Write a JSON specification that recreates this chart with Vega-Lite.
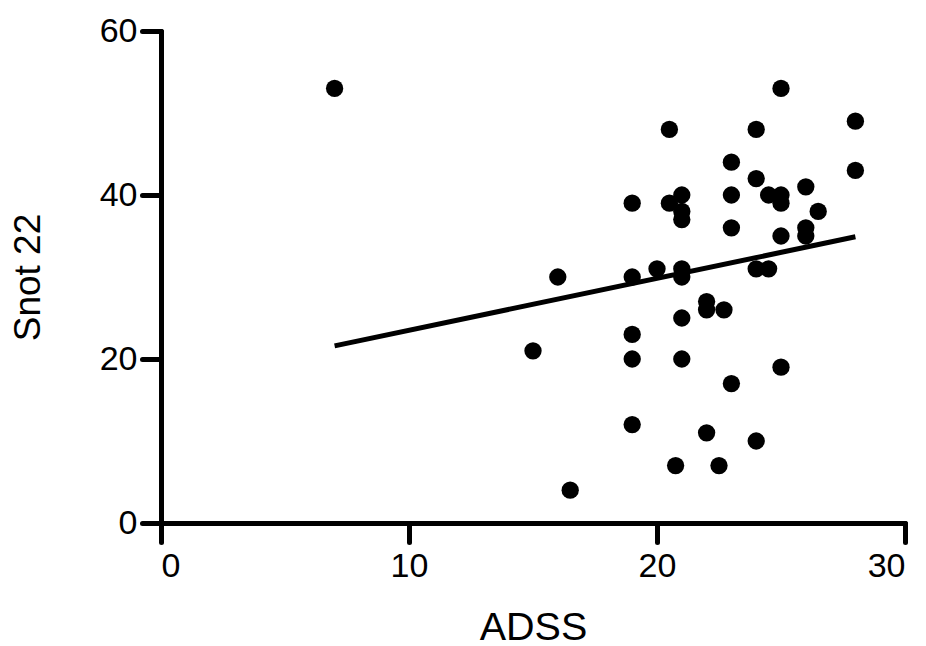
{
  "$schema": "https://vega.github.io/schema/vega-lite/v6.json",
  "width": 744,
  "height": 492,
  "autosize": "none",
  "padding": {"left": 161, "top": 31, "right": 21, "bottom": 123},
  "background": "white",
  "config": {
    "view": {"stroke": null},
    "font": "Liberation Sans"
  },
  "datasets": {
    "points": [
      {"ADSS": 7, "Snot22": 53},
      {"ADSS": 15, "Snot22": 21},
      {"ADSS": 16, "Snot22": 30},
      {"ADSS": 16.5, "Snot22": 4},
      {"ADSS": 19, "Snot22": 39},
      {"ADSS": 19, "Snot22": 30},
      {"ADSS": 19, "Snot22": 23},
      {"ADSS": 19, "Snot22": 20},
      {"ADSS": 19, "Snot22": 12},
      {"ADSS": 20, "Snot22": 31},
      {"ADSS": 20.5, "Snot22": 48},
      {"ADSS": 20.5, "Snot22": 39},
      {"ADSS": 20.75, "Snot22": 7},
      {"ADSS": 21, "Snot22": 40},
      {"ADSS": 21, "Snot22": 38},
      {"ADSS": 21, "Snot22": 37},
      {"ADSS": 21, "Snot22": 31},
      {"ADSS": 21, "Snot22": 30},
      {"ADSS": 21, "Snot22": 25},
      {"ADSS": 21, "Snot22": 20},
      {"ADSS": 22, "Snot22": 27},
      {"ADSS": 22, "Snot22": 26},
      {"ADSS": 22, "Snot22": 11},
      {"ADSS": 22.5, "Snot22": 7},
      {"ADSS": 22.7, "Snot22": 26},
      {"ADSS": 23, "Snot22": 44},
      {"ADSS": 23, "Snot22": 40},
      {"ADSS": 23, "Snot22": 36},
      {"ADSS": 23, "Snot22": 17},
      {"ADSS": 24, "Snot22": 48},
      {"ADSS": 24, "Snot22": 42},
      {"ADSS": 24, "Snot22": 31},
      {"ADSS": 24, "Snot22": 10},
      {"ADSS": 24.5, "Snot22": 40},
      {"ADSS": 24.5, "Snot22": 31},
      {"ADSS": 25, "Snot22": 53},
      {"ADSS": 25, "Snot22": 40},
      {"ADSS": 25, "Snot22": 39},
      {"ADSS": 25, "Snot22": 35},
      {"ADSS": 25, "Snot22": 19},
      {"ADSS": 26, "Snot22": 41},
      {"ADSS": 26, "Snot22": 36},
      {"ADSS": 26, "Snot22": 35},
      {"ADSS": 26.5, "Snot22": 38},
      {"ADSS": 28, "Snot22": 49},
      {"ADSS": 28, "Snot22": 43}
    ],
    "fit": [
      {"ADSS": 7, "Snot22": 21.6},
      {"ADSS": 28, "Snot22": 34.9}
    ]
  },
  "layer": [
    {
      "data": {"name": "fit"},
      "mark": {"type": "line", "color": "black", "strokeWidth": 5},
      "encoding": {
        "x": {"field": "ADSS", "type": "quantitative"},
        "y": {"field": "Snot22", "type": "quantitative"}
      }
    },
    {
      "data": {"name": "points"},
      "mark": {"type": "point", "filled": true, "shape": "circle", "color": "black", "opacity": 1, "size": 300},
      "encoding": {
        "x": {
          "field": "ADSS", "type": "quantitative",
          "scale": {"domain": [0, 30], "nice": false, "zero": false},
          "axis": {
            "values": [0, 10, 20, 30], "title": "ADSS", "grid": false,
            "domainColor": "black", "domainWidth": 5, "domainCap": "round",
            "tickColor": "black", "tickWidth": 5, "tickSize": 19, "tickCap": "round",
            "labelFont": "Liberation Sans", "labelFontSize": 34, "labelColor": "black", "labelPadding": 7,
            "titleFont": "Liberation Sans", "titleFontSize": 39.5, "titleFontWeight": "normal", "titleColor": "black", "titlePadding": 25
          }
        },
        "y": {
          "field": "Snot22", "type": "quantitative",
          "scale": {"domain": [0, 60], "nice": false, "zero": false},
          "axis": {
            "values": [0, 20, 40, 60], "title": "Snot 22", "grid": false,
            "domainColor": "black", "domainWidth": 5, "domainCap": "round",
            "tickColor": "black", "tickWidth": 5, "tickSize": 19, "tickCap": "round",
            "labelFont": "Liberation Sans", "labelFontSize": 34, "labelColor": "black", "labelPadding": 5,
            "titleFont": "Liberation Sans", "titleFontSize": 37, "titleFontWeight": "normal", "titleColor": "black", "titlePadding": 52
          }
        }
      }
    }
  ]
}
